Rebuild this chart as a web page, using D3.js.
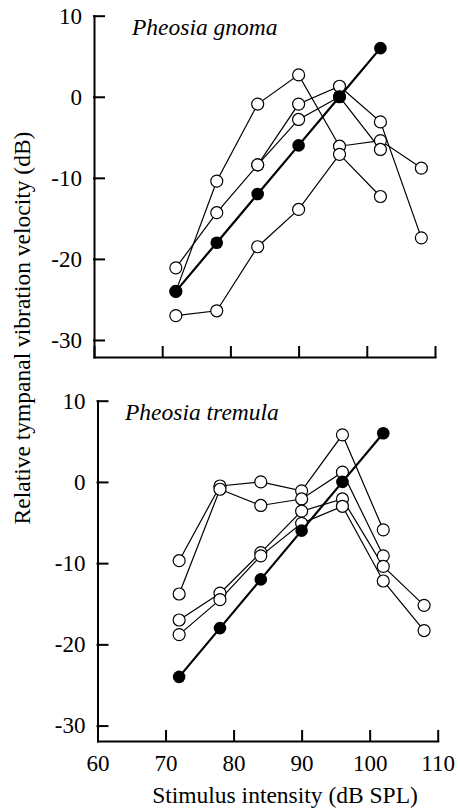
<!DOCTYPE html>
<html lang="en">
<head>
    <meta charset="UTF-8">
    <title>Pheosia tympanal velocity</title>
    <style>
        body {
            margin: 0;
            background: #fff;
        }
        .axis path, .axis line {
            stroke: #000;
            stroke-width: 2;
            stroke-linecap: square;
        }
    </style>
</head>
<body>

<div id="chart"></div>

<script src="https://cdn.jsdelivr.net/npm/d3@7"></script>

<script>

    // stimulus intensity (dB SPL)
    let intensity = [72, 78, 84, 90, 96, 102, 108]

    // Pheosia gnoma, relative velocity (dB), one array per animal
    let gnomaOpen = [
        [-24, -10.4, -0.9, 2.7, -6.1, -5.4, -8.8],
        [-21.1, -14.3, -8.4, -0.9, 1.3, -3.1, -17.4],
        [null, null, -8.4, -2.8, 0, -6.5, null],
        [-27, -26.4, -18.5, -13.9, -7.1, -12.3, null]
    ]
    let gnomaRef = [-24, -18, -12, -6, 0, 6, null]

    // Pheosia tremula
    let tremulaOpen = [
        [-9.7, -0.5, 0, -1.1, 5.8, -5.9, null],
        [-13.8, -0.9, -2.9, -2.1, 1.2, -9.1, null],
        [-17, -13.7, -8.7, -3.6, -2.1, -10.4, -15.2],
        [-18.8, -14.5, -9.1, -5.1, -3, -12.2, -18.3]
    ]
    let tremulaRef = [-24, -18, -12, -6, 0, 6, null]

    let xTicks = [60, 70, 80, 90, 100, 110]
    let yTicks = [10, 0, -10, -20, -30]

    let W = 458, H = 811
    let FONT = '"Liberation Serif", "Times New Roman", serif'

    let svg = d3.select('#chart').append('svg')
        .attr('width', W)
        .attr('height', H)
        .attr('font-family', FONT)

    function panel(opts) {
        let x = d3.scaleLinear().domain([60, 110]).range([opts.left, opts.right])
        let y = d3.scaleLinear().domain([opts.yMin, 10]).range([opts.bottom, opts.top])

        let g = svg.append('g')

        g.append('g')
            .attr('class', 'axis')
            .attr('transform', `translate(${opts.left},0)`)
            .call(d3.axisLeft(y)
                .tickValues(yTicks)
                .tickSize(-10)
                .tickSizeOuter(0)
                .tickPadding(12)
                .tickFormat(d => String(d)))

        g.append('g')
            .attr('class', 'axis')
            .attr('transform', `translate(0,${opts.bottom})`)
            .call(d3.axisBottom(x)
                .tickValues(xTicks)
                .tickSize(-10)
                .tickSizeOuter(0)
                .tickPadding(14)
                .tickFormat(d => opts.xLabels ? String(d) : ''))

        // d3 puts sans-serif on the axis groups, swap it back
        g.selectAll('.axis')
            .attr('font-family', FONT)
            .attr('font-size', 23)

        let line = d3.line()
            .defined(d => d != null)
            .x((d, i) => x(intensity[i]))
            .y(d => y(d))

        let pts = series => series
            .map((v, i) => ({x: intensity[i], v: v}))
            .filter(p => p.v != null)

        g.selectAll('.open-line')
            .data(opts.open)
            .enter()
            .append('path')
            .attr('class', 'open-line')
            .attr('d', line)
            .attr('fill', 'none')
            .attr('stroke', '#000')
            .attr('stroke-width', 1.2)

        g.selectAll('.open-dots')
            .data(opts.open)
            .enter()
            .append('g')
            .selectAll('circle')
            .data(pts)
            .enter()
            .append('circle')
            .attr('cx', d => x(d.x))
            .attr('cy', d => y(d.v))
            .attr('r', 6)
            .attr('fill', '#fff')
            .attr('stroke', '#000')
            .attr('stroke-width', 1.2)

        g.append('path')
            .datum(opts.ref)
            .attr('d', line)
            .attr('fill', 'none')
            .attr('stroke', '#000')
            .attr('stroke-width', 2.2)

        g.selectAll('.ref-dot')
            .data(pts(opts.ref))
            .enter()
            .append('circle')
            .attr('class', 'ref-dot')
            .attr('cx', d => x(d.x))
            .attr('cy', d => y(d.v))
            .attr('r', 6.3)
            .attr('fill', '#000')

        g.append('text')
            .attr('x', opts.nameX)
            .attr('y', opts.nameY)
            .attr('font-size', 23.5)
            .attr('font-style', 'italic')
            .text(opts.name)
    }

    panel({
        left: 94, right: 435, top: 15.7, bottom: 357, yMin: -32.1,
        open: gnomaOpen, ref: gnomaRef, xLabels: false,
        name: 'Pheosia gnoma', nameX: 132, nameY: 35
    })

    panel({
        left: 97.5, right: 437.7, top: 400.7, bottom: 741, yMin: -31.9,
        open: tremulaOpen, ref: tremulaRef, xLabels: true,
        name: 'Pheosia tremula', nameX: 125, nameY: 420
    })

    svg.append('text')
        .attr('x', 285)
        .attr('y', 803)
        .attr('text-anchor', 'middle')
        .attr('font-size', 23.5)
        .text('Stimulus intensity (dB SPL)')

    svg.append('text')
        .attr('transform', 'translate(30,328) rotate(-90)')
        .attr('text-anchor', 'middle')
        .attr('font-size', 23.5)
        .text('Relative tympanal vibration velocity (dB)')

</script>

</body>
</html>
